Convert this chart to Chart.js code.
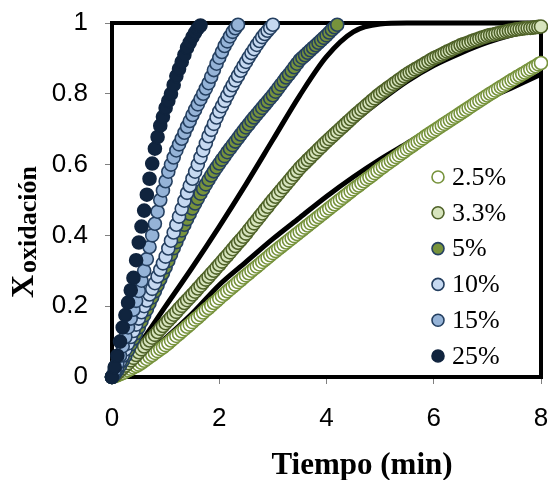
<!DOCTYPE html>
<html>
<head>
<meta charset="utf-8">
<script src="https://cdn.jsdelivr.net/npm/chart.js@4.4.0/dist/chart.umd.min.js"></script>
<style>
  html, body { margin: 0; padding: 0; background: #fff; }
</style>
</head>
<body>
<canvas id="myChart" width="548" height="480"></canvas>
<script>
// tiempo de muestreo (min), comun a todas las series
var tiempo = [
  0, 0.05, 0.1, 0.15, 0.2, 0.25, 0.3, 0.35, 0.4, 0.45,
  0.5, 0.55, 0.6, 0.65, 0.7, 0.75, 0.8, 0.85, 0.9, 0.95,
  1, 1.05, 1.1, 1.15, 1.2, 1.25, 1.3, 1.35, 1.4, 1.45,
  1.5, 1.55, 1.6, 1.65, 1.7, 1.75, 1.8, 1.85, 1.9, 1.95,
  2, 2.05, 2.1, 2.15, 2.2, 2.25, 2.3, 2.35, 2.4, 2.45,
  2.5, 2.55, 2.6, 2.65, 2.7, 2.75, 2.8, 2.85, 2.9, 2.95,
  3, 3.05, 3.1, 3.15, 3.2, 3.25, 3.3, 3.35, 3.4, 3.45,
  3.5, 3.55, 3.6, 3.65, 3.7, 3.75, 3.8, 3.85, 3.9, 3.95,
  4, 4.05, 4.1, 4.15, 4.2, 4.25, 4.3, 4.35, 4.4, 4.45,
  4.5, 4.55, 4.6, 4.65, 4.7, 4.75, 4.8, 4.85, 4.9, 4.95,
  5, 5.05, 5.1, 5.15, 5.2, 5.25, 5.3, 5.35, 5.4, 5.45,
  5.5, 5.55, 5.6, 5.65, 5.7, 5.75, 5.8, 5.85, 5.9, 5.95,
  6, 6.05, 6.1, 6.15, 6.2, 6.25, 6.3, 6.35, 6.4, 6.45,
  6.5, 6.55, 6.6, 6.65, 6.7, 6.75, 6.8, 6.85, 6.9, 6.95,
  7, 7.05, 7.1, 7.15, 7.2, 7.25, 7.3, 7.35, 7.4, 7.45,
  7.5, 7.55, 7.6, 7.65, 7.7, 7.75, 7.8, 7.85, 7.9, 7.95,
  8
];

var etiquetas = ['2.5%', '3.3%', '5%', '10%', '15%', '25%'];

var conc2_5 = [
  0, 0.002, 0.005, 0.008, 0.011, 0.015, 0.019, 0.023, 0.027, 0.031,
  0.035, 0.040, 0.046, 0.051, 0.057, 0.062, 0.068, 0.073, 0.079, 0.084,
  0.090, 0.096, 0.103, 0.109, 0.116, 0.122, 0.129, 0.135, 0.142, 0.148,
  0.155, 0.162, 0.168, 0.175, 0.182, 0.189, 0.195, 0.202, 0.209, 0.215,
  0.222, 0.229, 0.235, 0.242, 0.248, 0.255, 0.261, 0.268, 0.274, 0.281,
  0.287, 0.293, 0.300, 0.306, 0.312, 0.318, 0.325, 0.331, 0.337, 0.344,
  0.350, 0.356, 0.362, 0.368, 0.374, 0.380, 0.386, 0.392, 0.398, 0.404,
  0.410, 0.416, 0.422, 0.428, 0.434, 0.440, 0.446, 0.452, 0.458, 0.464,
  0.470, 0.476, 0.482, 0.488, 0.494, 0.500, 0.506, 0.512, 0.518, 0.524,
  0.530, 0.536, 0.541, 0.547, 0.553, 0.559, 0.564, 0.570, 0.576, 0.582,
  0.588, 0.593, 0.599, 0.604, 0.610, 0.615, 0.621, 0.626, 0.632, 0.637,
  0.643, 0.648, 0.653, 0.659, 0.664, 0.669, 0.674, 0.680, 0.685, 0.690,
  0.695, 0.700, 0.705, 0.710, 0.715, 0.720, 0.725, 0.730, 0.735, 0.740,
  0.745, 0.750, 0.755, 0.760, 0.765, 0.770, 0.775, 0.780, 0.785, 0.790,
  0.795, 0.800, 0.804, 0.809, 0.814, 0.819, 0.823, 0.828, 0.833, 0.838,
  0.842, 0.847, 0.851, 0.856, 0.860, 0.865, 0.869, 0.874, 0.878, 0.883,
  0.887
];

var conc3_3 = [
  0, 0.005, 0.011, 0.018, 0.025, 0.032, 0.039, 0.047, 0.054, 0.062,
  0.070, 0.078, 0.086, 0.095, 0.103, 0.111, 0.119, 0.127, 0.136, 0.144,
  0.152, 0.160, 0.168, 0.176, 0.184, 0.193, 0.201, 0.209, 0.217, 0.225,
  0.233, 0.241, 0.250, 0.258, 0.267, 0.275, 0.283, 0.292, 0.300, 0.309,
  0.317, 0.326, 0.335, 0.343, 0.352, 0.361, 0.370, 0.379, 0.387, 0.396,
  0.405, 0.415, 0.424, 0.434, 0.443, 0.453, 0.462, 0.472, 0.481, 0.491,
  0.500, 0.509, 0.518, 0.527, 0.536, 0.545, 0.554, 0.563, 0.572, 0.581,
  0.590, 0.598, 0.605, 0.613, 0.620, 0.628, 0.635, 0.643, 0.650, 0.658,
  0.665, 0.672, 0.679, 0.686, 0.693, 0.700, 0.707, 0.714, 0.721, 0.728,
  0.735, 0.742, 0.748, 0.755, 0.761, 0.768, 0.774, 0.781, 0.787, 0.794,
  0.800, 0.806, 0.811, 0.817, 0.822, 0.828, 0.833, 0.839, 0.844, 0.850,
  0.855, 0.860, 0.864, 0.869, 0.873, 0.878, 0.882, 0.887, 0.891, 0.896,
  0.900, 0.904, 0.907, 0.911, 0.915, 0.919, 0.922, 0.926, 0.930, 0.933,
  0.937, 0.940, 0.942, 0.945, 0.948, 0.951, 0.953, 0.956, 0.959, 0.961,
  0.964, 0.966, 0.967, 0.969, 0.971, 0.973, 0.974, 0.976, 0.978, 0.979,
  0.981, 0.982, 0.983, 0.984, 0.985, 0.986, 0.986, 0.987, 0.988, 0.989,
  0.990
];

var conc5 = [
  0, 0.008, 0.019, 0.032, 0.046, 0.060, 0.076, 0.092, 0.108, 0.124,
  0.140, 0.157, 0.174, 0.191, 0.208, 0.225, 0.242, 0.259, 0.276, 0.293,
  0.310, 0.328, 0.346, 0.364, 0.381, 0.398, 0.414, 0.430, 0.446, 0.461,
  0.476, 0.490, 0.504, 0.518, 0.531, 0.544, 0.557, 0.569, 0.581, 0.592,
  0.603, 0.614, 0.624, 0.635, 0.645, 0.655, 0.665, 0.675, 0.685, 0.695,
  0.705, 0.714, 0.724, 0.733, 0.742, 0.751, 0.760, 0.769, 0.778, 0.787,
  0.796, 0.806, 0.816, 0.826, 0.836, 0.846, 0.855, 0.865, 0.875, 0.885,
  0.895, 0.902, 0.909, 0.916, 0.923, 0.930, 0.937, 0.944, 0.951, 0.958,
  0.965, 0.973, 0.981, 0.988, 0.995
];

var conc10 = [
  0, 0.013, 0.028, 0.044, 0.060, 0.078, 0.095, 0.113, 0.130, 0.148,
  0.165, 0.183, 0.200, 0.216, 0.233, 0.249, 0.265, 0.284, 0.303, 0.321,
  0.340, 0.363, 0.385, 0.408, 0.430, 0.453, 0.475, 0.498, 0.520, 0.540,
  0.560, 0.580, 0.600, 0.620, 0.640, 0.660, 0.680, 0.698, 0.715, 0.733,
  0.750, 0.765, 0.780, 0.795, 0.810, 0.824, 0.838, 0.851, 0.865, 0.878,
  0.890, 0.903, 0.915, 0.926, 0.938, 0.949, 0.960, 0.969, 0.978, 0.986,
  0.995
];

var conc15 = [
  0, 0.018, 0.038, 0.060, 0.087, 0.113, 0.140, 0.165, 0.190, 0.215,
  0.243, 0.272, 0.300, 0.333, 0.367, 0.400, 0.433, 0.467, 0.500, 0.527,
  0.553, 0.580, 0.600, 0.620, 0.640, 0.657, 0.673, 0.690, 0.707, 0.723,
  0.740, 0.755, 0.770, 0.785, 0.800, 0.815, 0.830, 0.848, 0.867, 0.885,
  0.902, 0.918, 0.935, 0.948, 0.962, 0.975, 0.985, 0.995
];

var conc25 = [
  0, 0.028, 0.060, 0.100, 0.140, 0.175, 0.210, 0.245, 0.280, 0.330,
  0.380, 0.425, 0.470, 0.515, 0.560, 0.603, 0.645, 0.678, 0.710, 0.735,
  0.760, 0.780, 0.800, 0.825, 0.850, 0.870, 0.890, 0.910, 0.930, 0.945,
  0.960, 0.973, 0.985, 0.993
];

// curvas del modelo (lineas negras)
var tiempoModelo = [0, 0.5, 1, 1.5, 2, 2.5, 3, 3.5, 4, 4.5, 5, 5.5, 6, 6.5, 7, 7.5, 8];
var modelo1 = [0, 0.09, 0.2, 0.31, 0.425, 0.545, 0.67, 0.795, 0.905, 0.975, 0.997, 1, 1, 1, 1, 1, 1];
var modelo2 = [0, 0.07, 0.15, 0.235, 0.32, 0.41, 0.5, 0.585, 0.655, 0.72, 0.78, 0.835, 0.88, 0.915, 0.945, 0.968, 0.985];
var modelo3 = [0, 0.05, 0.11, 0.18, 0.26, 0.325, 0.39, 0.45, 0.51, 0.565, 0.615, 0.66, 0.705, 0.745, 0.785, 0.82, 0.855];

var estilos = [
  { fill: '#ffffff', line: '#77933c' },
  { fill: '#d7e4bd', line: '#4f6228' },
  { fill: '#77933c', line: '#254061' },
  { fill: '#c6d9f1', line: '#243f60' },
  { fill: '#95b3d7', line: '#243f60' },
  { fill: '#10243e', line: '#10243e' }
];

function puntos(xs, ys) {
  return ys.map(function (y, i) { return { x: xs[i], y: y }; });
}

var series = [conc2_5, conc3_3, conc5, conc10, conc15, conc25];

var datasets = [];
series.forEach(function (vals, i) {
  datasets.push({
    label: etiquetas[i],
    data: puntos(tiempo, vals),
    backgroundColor: estilos[i].fill,
    borderColor: estilos[i].line,
    pointRadius: 6.5,
    pointBorderWidth: 1.6,
    showLine: false,
    clip: false,
    order: 6 - i
  });
});
[modelo1, modelo2, modelo3].forEach(function (vals) {
  datasets.push({
    label: '',
    data: puntos(tiempoModelo, vals),
    borderColor: '#000',
    borderWidth: 5,
    pointRadius: 0,
    showLine: true,
    cubicInterpolationMode: 'monotone',
    clip: false,
    order: 10
  });
});

var marco = {
  id: 'marco',
  beforeDatasetsDraw: function (chart) {
    var a = chart.chartArea, ctx = chart.ctx;
    ctx.save();
    ctx.strokeStyle = '#000';
    ctx.lineWidth = 4;
    ctx.strokeRect(a.left, a.top, a.right - a.left, a.bottom - a.top);
    ctx.restore();
  },
  afterDraw: function (chart) {
    var ctx = chart.ctx;
    ctx.save();

    // leyenda dentro del area
    ctx.font = '26px "Liberation Serif", "Times New Roman", serif';
    ctx.textBaseline = 'middle';
    ctx.textAlign = 'left';
    etiquetas.forEach(function (t, i) {
      var y = 177 + i * 35.8;
      ctx.beginPath();
      ctx.arc(438, y, 6, 0, Math.PI * 2);
      ctx.fillStyle = estilos[i].fill;
      ctx.fill();
      ctx.lineWidth = 1.6;
      ctx.strokeStyle = estilos[i].line;
      ctx.stroke();
      ctx.fillStyle = '#000';
      ctx.fillText(t, 452, y + 1);
    });

    // titulo eje x
    ctx.font = 'bold 31px "Liberation Serif", "Times New Roman", serif';
    ctx.textAlign = 'center';
    ctx.textBaseline = 'alphabetic';
    ctx.fillText('Tiempo (min)', 362, 474);

    // titulo eje y con subindice
    ctx.translate(33, 298);
    ctx.rotate(-Math.PI / 2);
    ctx.textAlign = 'left';
    ctx.font = 'bold 32px "Liberation Serif", "Times New Roman", serif';
    ctx.fillText('X', 0, 0);
    var w = ctx.measureText('X').width;
    ctx.font = 'bold 26px "Liberation Serif", "Times New Roman", serif';
    ctx.fillText('oxidación', w + 2, 3);

    ctx.restore();
  }
};

var tickFont = { family: '"Liberation Sans", Arial, sans-serif', size: 26 };

var config = {
  type: 'scatter',
  data: { datasets: datasets },
  options: {
    responsive: false,
    animation: false,
    events: [],
    layout: { autoPadding: false, padding: { top: 23, right: 7, left: 0, bottom: 0 } },
    plugins: {
      legend: { display: false },
      tooltip: { enabled: false }
    },
    scales: {
      x: {
        type: 'linear',
        min: 0,
        max: 8,
        ticks: { stepSize: 2, color: '#000', font: tickFont, padding: 19, maxRotation: 0 },
        grid: { drawOnChartArea: false, drawTicks: true, tickLength: 7, color: '#808080' },
        border: { display: false },
        afterFit: function (scale) {
          scale.height = 103;
          scale.paddingLeft = 0;
          scale.paddingRight = 0;
        }
      },
      y: {
        type: 'linear',
        min: 0,
        max: 1,
        ticks: {
          stepSize: 0.2, color: '#000', font: tickFont, padding: 17,
          callback: function (v) { return String(Math.round(v * 10) / 10); }
        },
        grid: { drawOnChartArea: false, drawTicks: true, tickLength: 7, color: '#808080' },
        border: { display: false },
        afterFit: function (scale) {
          scale.width = 112;
          scale.paddingTop = 0;
          scale.paddingBottom = 0;
        }
      }
    }
  },
  plugins: [marco]
};

var myChart = new Chart(document.getElementById('myChart'), config);
</script>
</body>
</html>
